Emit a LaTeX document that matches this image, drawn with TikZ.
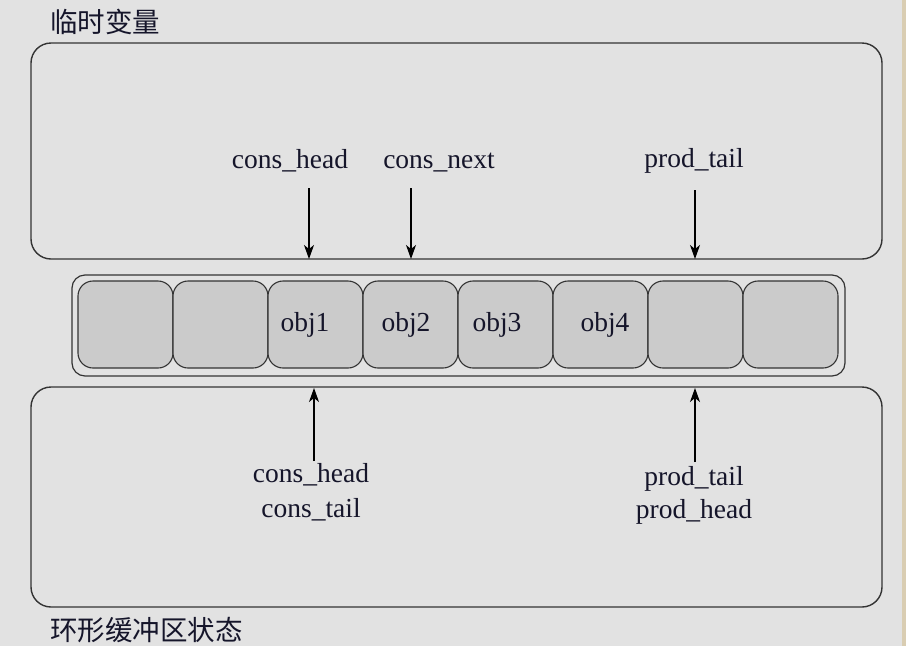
\documentclass[tikz,border=0pt]{standalone}
\usepackage{fontspec}
\setmainfont{Liberation Serif}
\newfontfamily\cjk{Noto Sans CJK SC}
\usetikzlibrary{arrows.meta}
\definecolor{bg}{HTML}{E2E2E2}
\definecolor{cellfill}{HTML}{CBCBCB}
\definecolor{strokec}{HTML}{333333}
\definecolor{txt}{HTML}{15152A}
\definecolor{strip}{HTML}{D9CDB2}
\tikzset{
  panel/.style={draw=strokec, line width=1.4pt, rounded corners=20pt},
  ringbox/.style={draw=strokec, line width=1.2pt, rounded corners=13pt},
  cellbox/.style={draw=strokec, fill=cellfill, line width=1.1pt, rounded corners=15pt},
  lbl/.style={font=\fontsize{27.5}{30}\selectfont, text=txt, anchor=base, inner sep=0pt},
  ttl/.style={font=\cjk\fontsize{27.5}{30}\selectfont, text=txt, anchor=west, inner sep=0pt},
  ptr/.style={draw=black, line width=1.2pt, -{Stealth[length=14pt,width=10pt,inset=4pt]}}
}
\begin{document}
\begin{tikzpicture}[x=1pt,y=-1pt]
\useasboundingbox (0,0) rectangle (906,646);
\fill[bg] (0,0) rectangle (906,646);
\fill[strip] (902,0) rectangle (906,646);
% titles
\node[ttl] (t1) at (50,22) {临时变量};
\node[ttl] (t2) at (50,630) {环形缓冲区状态};
% panels
\draw[panel] (31,43) rectangle (882,259);
\draw[panel] (31,387) rectangle (882,607);
% ring buffer
\draw[ringbox] (72,275) rectangle (845,376);
\foreach \i in {0,...,7}{
  \draw[cellbox] ({78+95*\i},281) rectangle ({173+95*\i},368);
}
\node[lbl] (o1) at (305,331) {obj1};
\node[lbl] (o2) at (406,331) {obj2};
\node[lbl] (o3) at (497,331) {obj3};
\node[lbl] (o4) at (605,331) {obj4};
% top labels
\node[lbl] (ch) at (290,168) {cons\_head};
\node[lbl] (cn) at (439,168) {cons\_next};
\node[lbl] (pt) at (694,167) {prod\_tail};
\coordinate (chs) at (309,188);
\coordinate (che) at (309,259);
\coordinate (cns) at (411,188);
\coordinate (cne) at (411,259);
\coordinate (pts) at (695,190);
\coordinate (pte) at (695,259);
\draw[ptr] (chs) -- (che);
\draw[ptr] (cns) -- (cne);
\draw[ptr] (pts) -- (pte);
% bottom labels
\node[lbl] (bch) at (311,482) {cons\_head};
\node[lbl] (bct) at (311,517) {cons\_tail};
\node[lbl] (bpt) at (694,485) {prod\_tail};
\node[lbl] (bph) at (694,518) {prod\_head};
\coordinate (bcs) at (314,461);
\coordinate (bce) at (314,388);
\coordinate (bps) at (695,462);
\coordinate (bpe) at (695,388);
\draw[ptr] (bcs) -- (bce);
\draw[ptr] (bps) -- (bpe);
\end{tikzpicture}
\end{document}
